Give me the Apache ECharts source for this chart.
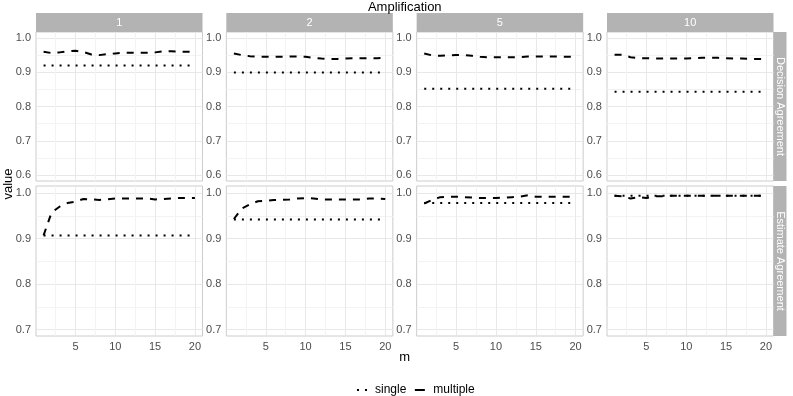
<!DOCTYPE html>
<html>
<head>
<meta charset="utf-8">
<script src="https://cdn.jsdelivr.net/npm/echarts@6/dist/echarts.min.js"></script>
<style>
  html, body { margin: 0; padding: 0; background: #fff; }
  #chart { width: 793px; height: 396px; }
</style>
</head>
<body>
<div id="chart"></div>
<script>
const mValues = [1, 2, 3, 4, 5, 6, 7, 8, 9, 10, 11, 12, 13, 14, 15, 16, 17, 18, 19, 20]
const amplification = ['1', '2', '5', '10']
const facetRows = ['Decision Agreement', 'Estimate Agreement']

const xTicks = [5, 10, 15, 20]
const xMinor = [2.5, 7.5, 12.5, 17.5]
const yTicksDecision = [0.6, 0.7, 0.8, 0.9, 1.0]
const yMinorDecision = [0.65, 0.75, 0.85, 0.95]
const yTicksEstimate = [0.7, 0.8, 0.9, 1.0]
const yMinorEstimate = [0.75, 0.85, 0.95]

// Decision Agreement
const decSingle1 = [0.920, 0.920, 0.920, 0.920, 0.920, 0.920, 0.920, 0.920, 0.920, 0.920, 0.920, 0.920, 0.920, 0.920, 0.920, 0.920, 0.920, 0.920, 0.920, 0.920]
const decMultiple1 = [0.960, 0.956, 0.958, 0.961, 0.963, 0.959, 0.952, 0.950, 0.953, 0.955, 0.957, 0.957, 0.957, 0.957, 0.958, 0.961, 0.961, 0.960, 0.960, 0.960]
const decSingle2 = [0.899, 0.899, 0.899, 0.899, 0.899, 0.899, 0.899, 0.899, 0.899, 0.899, 0.899, 0.899, 0.899, 0.899, 0.899, 0.899, 0.899, 0.899, 0.899, 0.899]
const decMultiple2 = [0.955, 0.950, 0.947, 0.945, 0.945, 0.945, 0.945, 0.946, 0.946, 0.945, 0.942, 0.940, 0.939, 0.939, 0.940, 0.941, 0.941, 0.941, 0.941, 0.942]
const decSingle5 = [0.852, 0.852, 0.852, 0.852, 0.852, 0.852, 0.852, 0.852, 0.852, 0.852, 0.852, 0.852, 0.852, 0.852, 0.852, 0.852, 0.852, 0.852, 0.852, 0.852]
const decMultiple5 = [0.955, 0.949, 0.948, 0.949, 0.950, 0.950, 0.948, 0.945, 0.944, 0.944, 0.944, 0.944, 0.944, 0.946, 0.946, 0.946, 0.946, 0.946, 0.945, 0.945]
const decSingle10 = [0.843, 0.843, 0.843, 0.843, 0.843, 0.843, 0.843, 0.843, 0.843, 0.843, 0.843, 0.843, 0.843, 0.843, 0.843, 0.843, 0.843, 0.843, 0.843, 0.843]
const decMultiple10 = [0.951, 0.951, 0.944, 0.941, 0.941, 0.940, 0.940, 0.940, 0.940, 0.940, 0.941, 0.942, 0.942, 0.942, 0.941, 0.940, 0.940, 0.939, 0.939, 0.939]

// Estimate Agreement
const estSingle1 = [0.907, 0.907, 0.907, 0.907, 0.907, 0.907, 0.907, 0.907, 0.907, 0.907, 0.907, 0.907, 0.907, 0.907, 0.907, 0.907, 0.907, 0.907, 0.907, 0.907]
const estMultiple1 = [0.907, 0.957, 0.970, 0.978, 0.981, 0.987, 0.986, 0.985, 0.986, 0.988, 0.988, 0.988, 0.988, 0.988, 0.986, 0.987, 0.988, 0.989, 0.989, 0.989]
const estSingle2 = [0.942, 0.942, 0.942, 0.942, 0.942, 0.942, 0.942, 0.942, 0.942, 0.942, 0.942, 0.942, 0.942, 0.942, 0.942, 0.942, 0.942, 0.942, 0.942, 0.942]
const estMultiple2 = [0.943, 0.966, 0.975, 0.982, 0.983, 0.985, 0.985, 0.986, 0.988, 0.989, 0.988, 0.986, 0.986, 0.986, 0.986, 0.986, 0.986, 0.988, 0.988, 0.987]
const estSingle5 = [0.978, 0.978, 0.978, 0.978, 0.978, 0.978, 0.978, 0.978, 0.978, 0.978, 0.978, 0.978, 0.978, 0.978, 0.978, 0.978, 0.978, 0.978, 0.978, 0.978]
const estMultiple5 = [0.977, 0.985, 0.991, 0.992, 0.992, 0.991, 0.990, 0.989, 0.989, 0.989, 0.990, 0.991, 0.992, 0.995, 0.992, 0.992, 0.992, 0.992, 0.992, 0.992]
const estSingle10 = [0.994, 0.994, 0.994, 0.994, 0.994, 0.994, 0.994, 0.994, 0.994, 0.994, 0.994, 0.994, 0.994, 0.994, 0.994, 0.994, 0.994, 0.994, 0.994, 0.994]
const estMultiple10 = [0.994, 0.993, 0.988, 0.991, 0.989, 0.993, 0.993, 0.994, 0.994, 0.994, 0.994, 0.994, 0.994, 0.994, 0.994, 0.994, 0.994, 0.994, 0.994, 0.994]

const singleByPanel = [
  [decSingle1, decSingle2, decSingle5, decSingle10],
  [estSingle1, estSingle2, estSingle5, estSingle10]
]
const multipleByPanel = [
  [decMultiple1, decMultiple2, decMultiple5, decMultiple10],
  [estMultiple1, estMultiple2, estMultiple5, estMultiple10]
]

// layout (px)
const panelLeft = 36
const panelStep = 190.33
const panelWidth = 166.5
const rowTop = [32, 186]
const rowHeight = [149, 150]
const rowRange = [[0.5825, 1.0175], [0.686, 1.0155]]
const rowTicks = [yTicksDecision, yTicksEstimate]
const rowMinor = [yMinorDecision, yMinorEstimate]
const stripFill = '#B3B3B3'
const majorGrid = '#E8E8E8'
const minorGrid = '#F3F3F3'
const textFont = '"Liberation Sans", Arial, sans-serif'

const chart = echarts.init(document.getElementById('chart'), null, { renderer: 'canvas' })

const grids = []
const xAxes = []
const yAxes = []
const series = []
const graphics = []

facetRows.forEach((rowName, r) => {
  amplification.forEach((amp, c) => {
    const idx = grids.length
    grids.push({
      left: panelLeft + c * panelStep,
      top: rowTop[r],
      width: panelWidth,
      height: rowHeight[r],
      show: true,
      borderColor: '#CCCCCC',
      borderWidth: 1,
      backgroundColor: '#fff'
    })
    const xAll = [...xMinor, ...xTicks].sort((a, b) => a - b)
    xAxes.push({
      type: 'value',
      gridIndex: idx,
      min: 0.05,
      max: 20.95,
      axisLine: { show: false },
      axisTick: { show: false, customValues: xAll },
      axisLabel: {
        show: r === 1,
        customValues: xTicks,
        color: '#4D4D4D',
        fontSize: 11,
        fontFamily: textFont,
        margin: 5
      },
      splitLine: { show: true, lineStyle: { color: [minorGrid, majorGrid], width: 1 } }
    })
    const yAll = [...rowMinor[r], ...rowTicks[r]].sort((a, b) => a - b)
    yAxes.push({
      type: 'value',
      gridIndex: idx,
      min: rowRange[r][0],
      max: rowRange[r][1],
      axisLine: { show: false },
      axisTick: { show: false, customValues: yAll },
      axisLabel: {
        customValues: rowTicks[r],
        formatter: (v) => v.toFixed(1),
        color: '#4D4D4D',
        fontSize: 11,
        fontFamily: textFont,
        margin: 5
      },
      splitLine: { show: true, lineStyle: { color: [majorGrid, minorGrid], width: 1 } }
    })
    series.push({
      name: 'single',
      type: 'line',
      xAxisIndex: idx,
      yAxisIndex: idx,
      data: mValues.map((m, i) => [m, singleByPanel[r][c][i]]),
      symbol: 'none',
      showSymbol: false,
      silent: true,
      lineStyle: { color: '#000', width: 2, type: [2, 6] },
      itemStyle: { color: '#000' },
      z: 3
    })
    series.push({
      name: 'multiple',
      type: 'line',
      xAxisIndex: idx,
      yAxisIndex: idx,
      data: mValues.map((m, i) => [m, multipleByPanel[r][c][i]]),
      symbol: 'none',
      showSymbol: false,
      silent: true,
      lineStyle: { color: '#000', width: 2, type: [7, 7] },
      itemStyle: { color: '#000' },
      z: 4
    })

    // top strips (first row only)
    if (r === 0) {
      graphics.push({
        type: 'rect',
        shape: { x: panelLeft + c * panelStep, y: 13, width: panelWidth, height: 19 },
        style: { fill: stripFill },
        silent: true
      })
      graphics.push({
        type: 'text',
        x: panelLeft + c * panelStep + panelWidth / 2,
        y: 22.5,
        style: {
          text: amp,
          fill: '#fff',
          font: '11px ' + textFont,
          textAlign: 'center',
          textVerticalAlign: 'middle'
        },
        silent: true
      })
    }
  })

  // right strip for row
  const stripX = panelLeft + 3 * panelStep + panelWidth
  graphics.push({
    type: 'rect',
    shape: { x: stripX, y: rowTop[r], width: 13, height: rowHeight[r] },
    style: { fill: stripFill },
    silent: true
  })
  graphics.push({
    type: 'text',
    x: stripX + 6.5,
    y: rowTop[r] + rowHeight[r] / 2,
    rotation: -Math.PI / 2,
    style: {
      text: rowName,
      fill: '#fff',
      font: '11px ' + textFont,
      textAlign: 'center',
      textVerticalAlign: 'middle'
    },
    silent: true
  })
})

const plotCenterX = panelLeft + (3 * panelStep + panelWidth) / 2

graphics.push({
  type: 'text',
  x: plotCenterX,
  y: 7,
  style: { text: 'Amplification', fill: '#000', font: '13px ' + textFont, textAlign: 'center', textVerticalAlign: 'middle' },
  silent: true
})
graphics.push({
  type: 'text',
  x: plotCenterX,
  y: 357,
  style: { text: 'm', fill: '#000', font: '13px ' + textFont, textAlign: 'center', textVerticalAlign: 'middle' },
  silent: true
})
graphics.push({
  type: 'text',
  x: 8,
  y: (rowTop[0] + rowTop[1] + rowHeight[1]) / 2,
  rotation: Math.PI / 2,
  style: { text: 'value', fill: '#000', font: '13px ' + textFont, textAlign: 'center', textVerticalAlign: 'middle' },
  silent: true
})

chart.setOption({
  animation: false,
  grid: grids,
  xAxis: xAxes,
  yAxis: yAxes,
  series,
  legend: {
    top: 379,
    left: 347,
    itemWidth: 17,
    itemHeight: 14,
    itemGap: 4,
    selectedMode: false,
    itemStyle: { opacity: 0 },
    textStyle: { color: '#000', fontSize: 12, fontFamily: textFont, padding: [0, 0, 0, 0] },
    data: [
      { name: 'single', lineStyle: { type: [2, 6], dashOffset: -4 } },
      { name: 'multiple', lineStyle: { type: [10, 20], dashOffset: -3.5 } }
    ]
  },
  graphic: graphics
})
</script>
</body>
</html>
